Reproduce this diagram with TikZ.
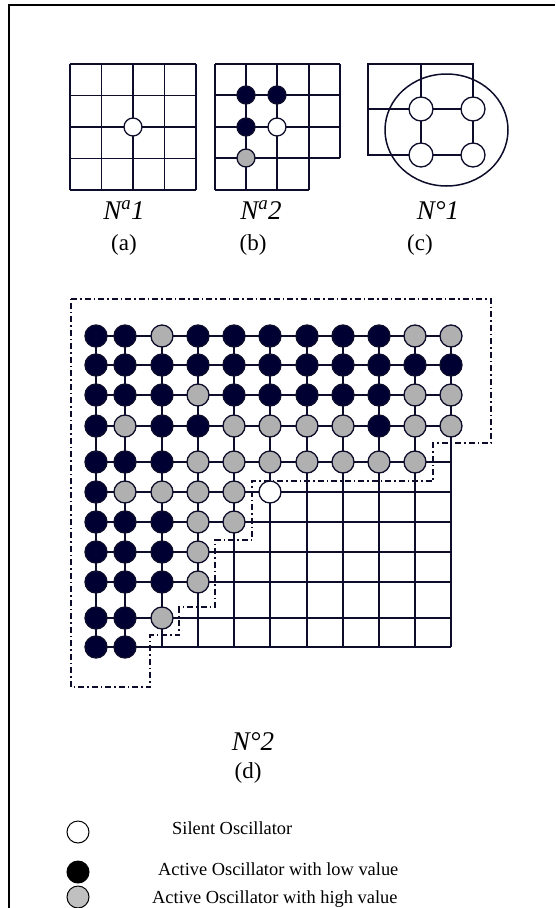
\documentclass[tikz,border=0pt]{standalone}
\usepackage{fontspec}
\setmainfont{Liberation Serif}
\definecolor{navy}{HTML}{000033}
\definecolor{linec}{HTML}{0D0D2B}
\definecolor{grayc}{HTML}{B0B0B0}
\definecolor{legray}{HTML}{C0C0C0}
\begin{document}
\begin{tikzpicture}[x=1pt,y=-1pt,
  gl/.style={line width=1.5pt, draw=linec},
  osc/.style={circle, minimum size=22pt, inner sep=0pt, line width=1.3pt, draw=linec},
  oscB/.style={osc, fill=navy},
  oscG/.style={osc, fill=grayc},
  oscW/.style={osc, fill=white},
  small/.style={minimum size=18pt},
  mid/.style={minimum size=24pt},
  bound/.style={line width=1.3pt, draw=linec, dash pattern=on 6pt off 3pt on 1.5pt off 3pt},
  lab/.style={font=\fontsize{27}{29}\selectfont\itshape, inner sep=0pt, anchor=base},
  sub/.style={font=\fontsize{23}{26}\selectfont, inner sep=0pt},
  leg/.style={font=\fontsize{18.4}{20}\selectfont, inner sep=0pt, anchor=base west},
  legc/.style={circle, minimum size=22pt, inner sep=0pt, line width=1pt, draw=black}]
\useasboundingbox (0,0) rectangle (555,908);
% frame
\draw[line width=1.5pt] (9,908) -- (9,5) -- (555,5);

% (a)
\foreach \x in {70,101.5,133,164.5,196} \draw[gl,line width=1.7pt] (\x,64) -- (\x,190);
\foreach \y in {64,95.5,127,158.5,190} \draw[gl,line width=1.7pt] (70,\y) -- (196,\y);
\node[oscW,small] (a1) at (133,127) {};
\node[lab] (la) at (124,219) {N\textsuperscript{a}1};
\node[sub] (lA) at (124,245) {(a)};

% (b)
\foreach \x in {215,246,277,309} \draw[gl,line width=1.1pt] (\x,64) -- (\x,190);
\draw[gl,line width=1.1pt] (340,64) -- (340,158);
\foreach \y in {64,95,127,158} \draw[gl,line width=1.1pt] (215,\y) -- (340,\y);
\draw[gl,line width=1.1pt] (215,190) -- (309,190);
\node[oscB,small] (b1) at (246,95) {};
\node[oscB,small] (b2) at (277,95) {};
\node[oscB,small] (b3) at (246,127) {};
\node[oscW,small] (b4) at (277,127) {};
\node[oscG,small] (b5) at (246,158) {};
\node[lab] (lb) at (261,219) {N\textsuperscript{a}2};
\node[sub] (lB) at (253,245) {(b)};

% (c)
\draw[gl,line width=1.5pt] (368,64) rectangle (473,155);
\draw[gl,line width=1.5pt] (421,64) -- (421,155);
\draw[gl,line width=1.5pt] (368,109) -- (473,109);
\draw[gl,line width=1.5pt] (446.5,130) ellipse [x radius=61.5, y radius=56];
\node[oscW,mid] (c1) at (421,109) {};
\node[oscW,mid] (c2) at (473,109) {};
\node[oscW,mid] (c3) at (421,155) {};
\node[oscW,mid] (c4) at (473,155) {};
\node[lab] (lc) at (438,219) {N°1};
\node[sub] (lC) at (420,245) {(c)};

% (d) grid
\foreach \x in {96,125,162,198,234,270,307,343,379,415,451}
  \draw[gl] (\x,336) -- (\x,647);
\foreach \y in {336,365,395,426,462,492,522,552,582,618,647}
  \draw[gl] (96,\y) -- (451,\y);
\foreach \y/\pat [count=\r] in {
  336/{oscB,oscB,oscG,oscB,oscB,oscB,oscB,oscB,oscB,oscG,oscG},
  365/{oscB,oscB,oscB,oscB,oscB,oscB,oscB,oscB,oscB,oscB,oscB},
  395/{oscB,oscB,oscB,oscG,oscB,oscB,oscB,oscB,oscB,oscG,oscG},
  426/{oscB,oscG,oscB,oscB,oscG,oscG,oscG,oscG,oscB,oscG,oscG},
  462/{oscB,oscB,oscB,oscG,oscG,oscG,oscG,oscG,oscG,oscG},
  492/{oscB,oscG,oscG,oscG,oscG,oscW},
  522/{oscB,oscB,oscB,oscG,oscG},
  552/{oscB,oscB,oscB,oscG},
  582/{oscB,oscB,oscB,oscG},
  618/{oscB,oscB,oscG},
  647/{oscB,oscB}} {
  \foreach \t [count=\c] in \pat {
    \pgfmathsetmacro{\xx}{{96,125,162,198,234,270,307,343,379,415,451}[\c-1]}
    \node[\t] (d\r-\c) at (\xx,\y) {};
  }
}
\draw[bound] (71,299) -- (491,299) -- (491,443) -- (433,443) -- (433,481)
  -- (252,481) -- (252,540) -- (215,540) -- (215,607) -- (179,607)
  -- (179,635) -- (150,635) -- (150,687) -- (71,687) -- cycle;
\node[lab] (ld) at (253,750) {N°2};
\node[sub] (lD) at (248,773) {(d)};

% legend
\node[legc, fill=white] (k1) at (78,832) {};
\node[legc, fill=black] (k2) at (78,872) {};
\node[legc, fill=legray] (k3) at (78,897) {};
\node[leg] (t1) at (172,834) {Silent Oscillator};
\node[leg] (t2) at (158,875) {Active Oscillator with low value};
\node[leg] (t3) at (152,903) {Active Oscillator with high value};
\end{tikzpicture}
\end{document}
